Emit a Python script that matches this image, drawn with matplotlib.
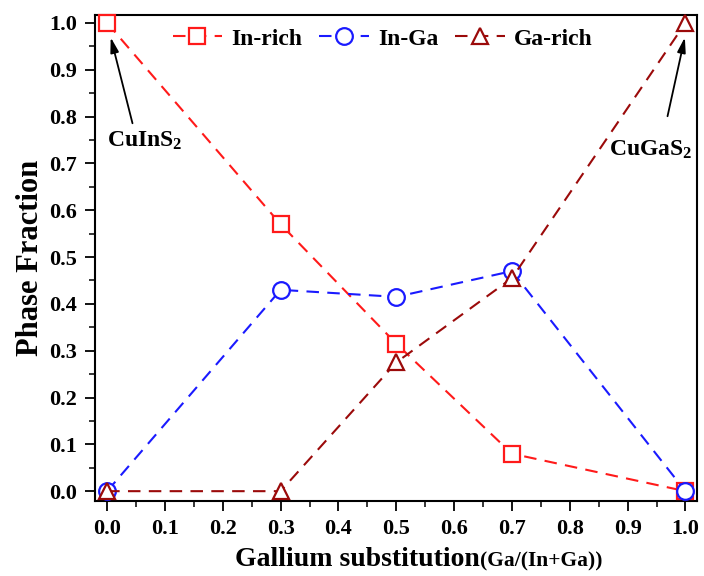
import matplotlib
matplotlib.use("Agg")
import matplotlib.pyplot as plt
from matplotlib.ticker import MultipleLocator

plt.rcParams['font.family'] = ['Liberation Serif', 'DejaVu Serif']
plt.rcParams['font.weight'] = 'bold'
plt.rcParams['mathtext.fontset'] = 'custom'
plt.rcParams['mathtext.rm'] = 'Liberation Serif:bold'
plt.rcParams['mathtext.bf'] = 'Liberation Serif:bold'
plt.rcParams['mathtext.it'] = 'Liberation Serif:bold'

ga_fraction = [0.0, 0.3, 0.5, 0.7, 1.0]
in_rich = [1.0, 0.57, 0.315, 0.08, 0.0]
in_ga = [0.0, 0.43, 0.415, 0.47, 0.0]
ga_rich = [0.0, 0.0, 0.275, 0.455, 1.0]

series_names = ["In-rich", "In-Ga", "Ga-rich"]
series_colors = ["#ff1a1a", "#1a1aff", "#9b0a0a"]
series_markers = ["s", "o", "^"]

fig = plt.figure(figsize=(7.04, 5.76), dpi=100)
ax = fig.add_axes([95 / 704, 1 - 501 / 576, (697 - 95) / 704, (501 - 15) / 576])

for vals, name, col, mk in zip([in_rich, in_ga, ga_rich], series_names,
                               series_colors, series_markers):
    ax.plot(ga_fraction, vals, linestyle=(0, (6, 4)), color=col, lw=1.5,
            marker=mk, markersize=12 if mk != "s" else 11,
            markerfacecolor='white', markeredgecolor=col, markeredgewidth=1.6,
            label=name, clip_on=False, zorder=3)

ax.set_xlim(-0.021, 1.02)
ax.set_ylim(-0.021, 1.017)
ax.xaxis.set_major_locator(MultipleLocator(0.1))
ax.xaxis.set_minor_locator(MultipleLocator(0.05))
ax.yaxis.set_major_locator(MultipleLocator(0.1))
ax.yaxis.set_minor_locator(MultipleLocator(0.05))
ax.tick_params(which='major', direction='out', length=7, width=1.3,
               labelsize=16, pad=6)
ax.tick_params(which='minor', direction='out', length=4, width=1.1)
ax.xaxis.set_major_formatter(plt.FormatStrFormatter('%.1f'))
ax.yaxis.set_major_formatter(plt.FormatStrFormatter('%.1f'))
for lbl in ax.get_xticklabels() + ax.get_yticklabels():
    lbl.set_fontweight('bold')
for sp in ax.spines.values():
    sp.set_linewidth(1.5)

ax.set_ylabel("Phase Fraction", fontsize=22, fontweight='bold', labelpad=3)

leg = ax.legend(loc='upper center', ncol=3, frameon=False, fontsize=17,
                handlelength=2.1, handletextpad=0.4, columnspacing=0.7,
                bbox_to_anchor=(0.478, 1.0), borderaxespad=0.15)
for t in leg.get_texts():
    t.set_fontweight('bold')

arrow_kw = dict(arrowstyle='-|>,head_length=0.9,head_width=0.25', color='black', lw=1.3)
ax.annotate("", xy=(0.005, 0.975), xytext=(0.045, 0.78), arrowprops=arrow_kw)
ax.text(0.0, 0.748, r"CuInS$_{2}$", fontsize=17, fontweight='bold',
        ha='left', va='center')
ax.annotate("", xy=(1.0, 0.975), xytext=(0.968, 0.795), arrowprops=arrow_kw)
ax.text(1.012, 0.73, r"CuGaS$_{2}$", fontsize=17, fontweight='bold',
        ha='right', va='center')

# x-axis label in two sizes, centered under the axes
fig.canvas.draw()
renderer = fig.canvas.get_renderer()
y_lab = 1 - 566 / 576
t1 = fig.text(0, y_lab, "Gallium substitution", fontsize=20, fontweight='bold',
              ha='left', va='baseline')
t2 = fig.text(0, y_lab, "(Ga/(In+Ga))", fontsize=15.5, fontweight='bold',
              ha='left', va='baseline')
w1 = t1.get_window_extent(renderer).width / fig.bbox.width
w2 = t2.get_window_extent(renderer).width / fig.bbox.width
x0 = 419 / 704 - (w1 + w2) / 2
t1.set_x(x0)
t2.set_x(x0 + w1)

fig.savefig("out.png", dpi=100)
